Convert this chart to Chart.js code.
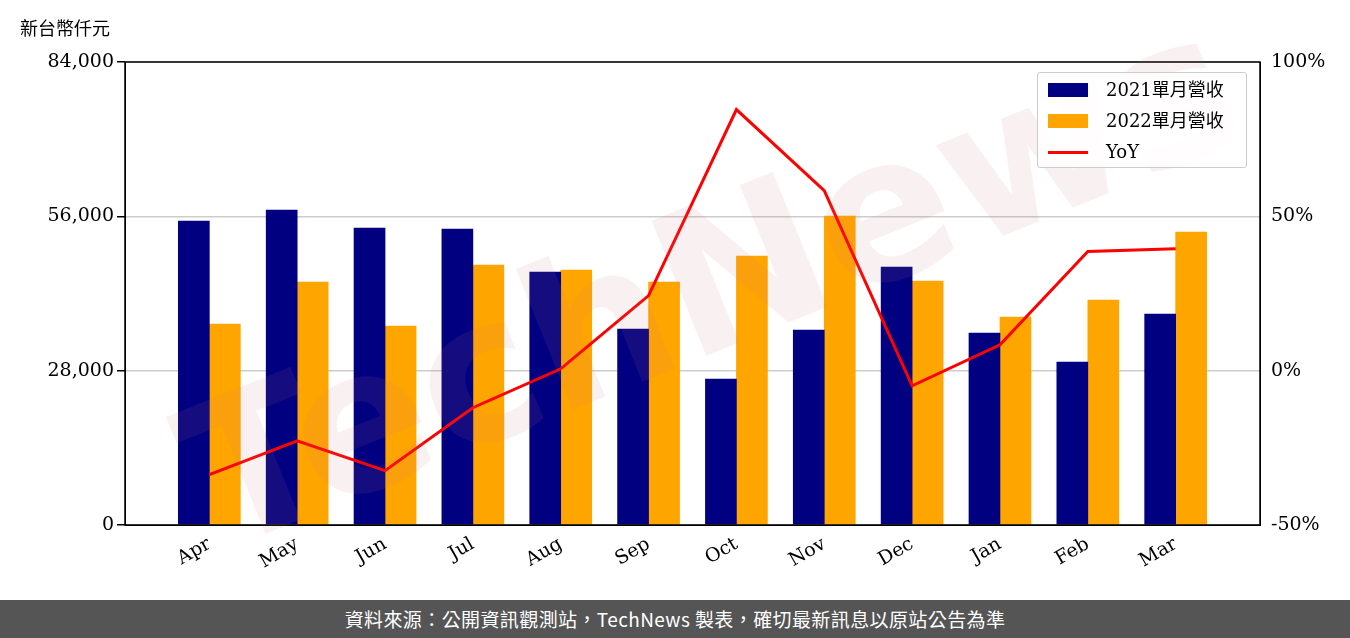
<!DOCTYPE html>
<html><head><meta charset="utf-8">
<script src="https://cdn.jsdelivr.net/npm/chart.js@4/dist/chart.umd.min.js"></script>
<style>
body{margin:0;width:1350px;height:638px;background:#fff;position:relative;overflow:hidden;font-family:"DejaVu Serif",serif}
#wrap{position:absolute;left:0;top:0;width:1350px;height:600px}
#unit{position:absolute;left:20px;top:14px;font:18px "Noto Sans CJK TC";color:#000}
#foot{position:absolute;left:0;top:600px;width:1350px;height:38px;background:#555;color:#fff;font:19px "Noto Sans CJK TC";letter-spacing:0.4px;text-align:center;line-height:38px}
#leg{position:absolute;left:1037px;top:72px;width:208px;height:94px;border:1px solid #ccc;border-radius:3px;background:rgba(255,255,255,0.85);font:18px "DejaVu Serif","Noto Sans CJK TC";}
#leg div{height:29px;line-height:29px;position:relative;padding-left:68px;margin-top:2px}
#leg span{position:absolute;left:10px;top:8px;width:40px;height:14px}
#wm{position:absolute;left:150px;top:380px;font:bold 200px "DejaVu Sans";color:rgba(200,120,120,0.1);transform:rotate(-22deg);transform-origin:0 0;white-space:nowrap}
</style></head><body>
<div id="wrap"><canvas id="c" width="1350" height="600"></canvas></div>
<div id="wm">TechNews</div>
<div id="unit">新台幣仟元</div>
<div id="leg">
<div><span style="background:#000080"></span>2021單月營收</div>
<div><span style="background:#ffa500"></span>2022單月營收</div>
<div><span style="background:#f00;height:3px;top:14px"></span>YoY</div>
</div>
<div id="foot">資料來源：公開資訊觀測站，TechNews 製表，確切最新訊息以原站公告為準</div>
<script>
const months = ['Apr','May','Jun','Jul','Aug','Sep','Oct','Nov','Dec','Jan','Feb','Mar'];
const rev2021 = [55150,57150,53880,53700,45900,35560,26490,35380,46800,34830,29570,38280];
const rev2022 = [36470,44090,36100,47170,46260,44090,48800,56060,44270,37740,40820,53160];
const yoy = [-33.7,-22.7,-32.4,-12,0.6,24.3,84.6,58.3,-4.9,8.4,38.6,39.5];
const leftTicks = [0,28000,56000,84000];
const rightTicks = [-50,0,50,100];

const pts = arr => arr.map((v,i)=>({x:i,y:v}));
const frame = {id:'frame',afterDraw(ch){const a=ch.chartArea,c=ch.ctx;c.save();c.strokeStyle='#000';c.lineWidth=1.5;c.strokeRect(a.left,a.top,a.right-a.left,a.bottom-a.top);c.restore();}};
const font = {family:'DejaVu Serif',size:19};
new Chart(document.getElementById('c'),{
  type:'bar',
  data:{datasets:[
    {type:'line',data:pts(yoy),yAxisID:'y2',borderColor:'#f00',borderWidth:3,pointRadius:0,tension:0,order:0},
    {data:pts(rev2021),backgroundColor:'#000080',barThickness:31,yAxisID:'y',order:1},
    {data:pts(rev2022),backgroundColor:'#ffa500',barThickness:31,yAxisID:'y',order:1}
  ]},
  options:{responsive:false,animation:false,
    layout:{padding:{top:62,left:0,right:0,bottom:0}},
    plugins:{legend:{display:false},tooltip:{enabled:false}},
    scales:{
      x:{type:'linear',offset:false,min:-0.96,max:11.96,afterBuildTicks:s=>{s.ticks=months.map((m,i)=>({value:i}))},
        afterFit:s=>{s.height=75},
        grid:{display:false,drawTicks:true,tickLength:6},border:{color:'#000'},
        ticks:{color:'#000',font,maxRotation:30,minRotation:30,padding:2,callback:v=>months[v]}},
      y:{min:0,max:84000,afterBuildTicks:s=>{s.ticks=leftTicks.map(v=>({value:v}))},afterFit:s=>{s.width=125},
        ticks:{color:'#000',font,callback:v=>v.toLocaleString('en-US')},grid:{color:'#ccc',lineWidth:1.5,tickColor:'#000',tickLength:8},border:{color:'#000'}},
      y2:{position:'right',min:-50,max:100,afterBuildTicks:s=>{s.ticks=rightTicks.map(v=>({value:v}))},afterFit:s=>{s.width=90},
        ticks:{color:'#000',font,callback:v=>v+'%'},grid:{display:false,tickLength:8},border:{color:'#000'}}
    }
  },
  plugins:[frame]
});
</script>
</body></html>
